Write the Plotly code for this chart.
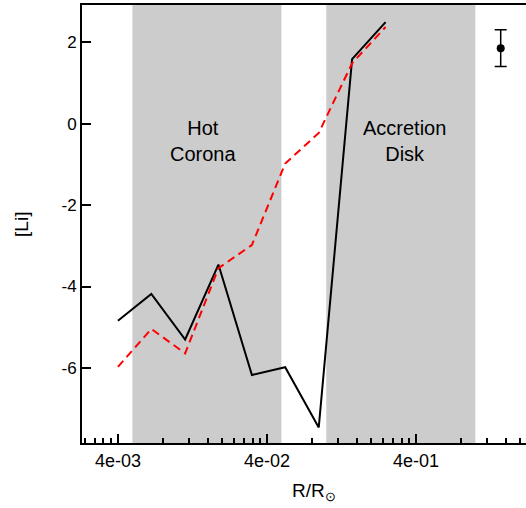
import math
import plotly.graph_objects as go

# Data
radius = [0.004, 0.0067, 0.0113, 0.0189, 0.0317, 0.053, 0.089, 0.149, 0.25]
li_model_a = [-4.84, -4.18, -5.30, -3.46, -6.17, -5.98, -7.46, 1.58, 2.49]
li_model_b = [-5.97, -5.04, -5.64, -3.55, -2.98, -0.98, -0.23, 1.48, 2.37]

region_names = ["Hot<br>Corona", "Accretion<br>Disk"]
region_start = [0.005, 0.1]
region_end = [0.05, 1.0]
region_label_x = [0.0148, 0.335]
region_label_y = [-0.42, -0.42]

err_x = [1.48]
err_y = [1.85]
err_size = [0.45]

x_tick_vals = [0.004, 0.04, 0.4]
x_tick_text = ["4e-03", "4e-02", "4e-01"]
y_tick_vals = [-6, -4, -2, 0, 2]
y_tick_text = ["-6", "-4", "-2", "0", "2"]
minor_vals = [m * 4e-4 for m in range(6, 10)] + [m * 4e-3 for m in range(2, 10)] + \
             [m * 4e-2 for m in range(2, 10)] + [m * 4e-1 for m in range(2, 6)]

y_range = [-7.84, 2.91]
x_range = [-2.639, 0.340]

fig = go.Figure()

for x0, x1 in zip(region_start, region_end):
    fig.add_trace(go.Scatter(
        x=[x0, x0, x1, x1, x0], y=[y_range[0], y_range[1], y_range[1], y_range[0], y_range[0]],
        fill="toself", fillcolor="#cccccc", line=dict(width=0), mode="lines",
        hoverinfo="skip", showlegend=False))

fig.add_trace(go.Scatter(x=radius, y=li_model_a, mode="lines",
                         line=dict(color="black", width=2), showlegend=False))
fig.add_trace(go.Scatter(x=radius, y=li_model_b, mode="lines",
                         line=dict(color="#ff0000", width=2, dash="8px,5px"), showlegend=False))
fig.add_trace(go.Scatter(x=err_x, y=err_y, mode="markers",
                         marker=dict(color="black", size=8),
                         error_y=dict(type="data", array=err_size, color="black",
                                      thickness=1.5, width=6),
                         showlegend=False))

for name, lx, ly in zip(region_names, region_label_x, region_label_y):
    fig.add_annotation(x=math.log10(lx), y=ly, text=name, showarrow=False,
                       font=dict(size=20, color="black"), xref="x", yref="y")

fig.add_annotation(x=0.5225, y=-0.112, xref="paper", yref="paper", text="R/R<sub>⊙</sub>",
                   xanchor="center", yanchor="middle",
                   showarrow=False, font=dict(size=19, color="black"))
fig.add_annotation(x=-0.135, y=0.498, xref="paper", yref="paper", text="[Li]",
                   xanchor="center", yanchor="middle",
                   textangle=-90, showarrow=False, font=dict(size=19, color="black"))

fig.update_layout(
    width=526, height=508,
    margin=dict(l=82, r=0, t=5, b=65),
    plot_bgcolor="white", paper_bgcolor="white",
    font=dict(family="Liberation Sans, Arial, sans-serif", color="black", size=17),
    xaxis=dict(type="log", range=x_range, showgrid=False, zeroline=False,
               showline=True, linecolor="black", linewidth=2, mirror=True,
               ticks="inside", ticklen=9, tickwidth=1.5, tickcolor="black",
               tickvals=x_tick_vals, ticktext=x_tick_text, tickfont=dict(size=18),
               minor=dict(tickvals=minor_vals, ticks="inside", ticklen=5,
                          tickwidth=1.5, tickcolor="black", showgrid=False)),
    yaxis=dict(range=y_range, showgrid=False, zeroline=False,
               showline=True, linecolor="black", linewidth=2,
               ticks="inside", ticklen=9, tickwidth=1.5, tickcolor="black",
               tickvals=y_tick_vals, ticktext=y_tick_text, tickfont=dict(size=17)),
)

fig.write_html("out.html", config={"displayModeBar": False},
               post_script="document.body.style.margin='0';")
